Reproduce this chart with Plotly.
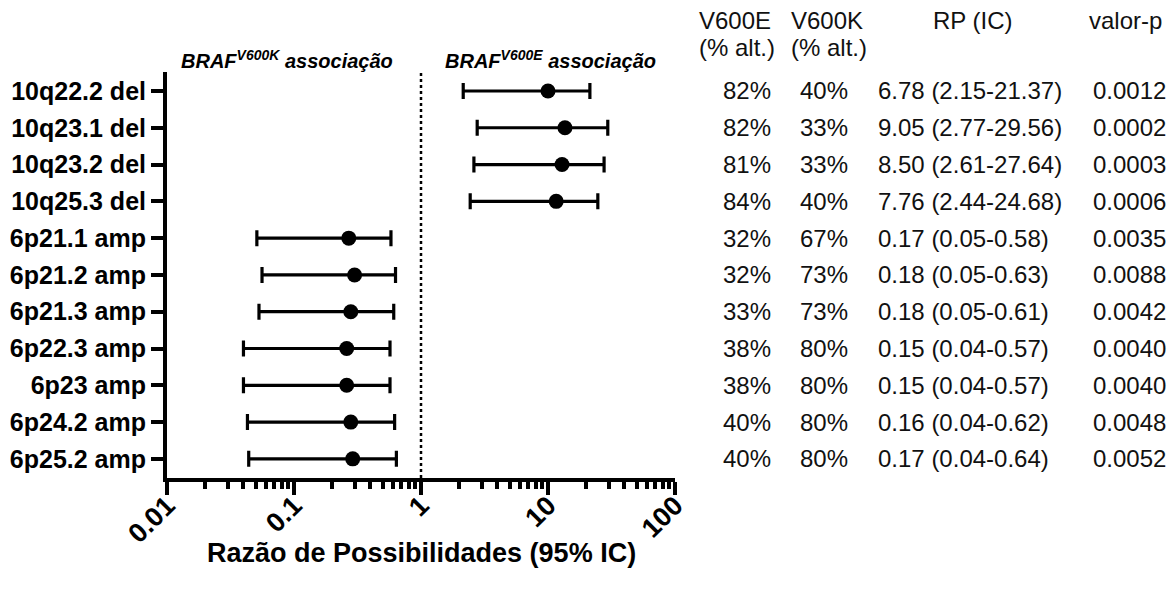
import plotly.graph_objects as go

categories = ["10q22.2 del", "10q23.1 del", "10q23.2 del", "10q25.3 del",
              "6p21.1 amp", "6p21.2 amp", "6p21.3 amp", "6p22.3 amp",
              "6p23 amp", "6p24.2 amp", "6p25.2 amp"]
point = [10.0, 13.6, 12.9, 11.6, 0.27, 0.30, 0.28, 0.26, 0.26, 0.28, 0.29]
ci_low = [2.15, 2.77, 2.61, 2.44, 0.051, 0.056, 0.053, 0.040, 0.040, 0.043, 0.044]
ci_high = [21.37, 29.56, 27.64, 24.68, 0.58, 0.63, 0.61, 0.57, 0.57, 0.62, 0.64]

v600e = ["82%", "82%", "81%", "84%", "32%", "32%", "33%", "38%", "38%", "40%", "40%"]
v600k = ["40%", "33%", "33%", "40%", "67%", "73%", "73%", "80%", "80%", "80%", "80%"]
rp_ic = ["6.78 (2.15-21.37)", "9.05 (2.77-29.56)", "8.50 (2.61-27.64)", "7.76 (2.44-24.68)",
         "0.17 (0.05-0.58)", "0.18 (0.05-0.63)", "0.18 (0.05-0.61)", "0.15 (0.04-0.57)",
         "0.15 (0.04-0.57)", "0.16 (0.04-0.62)", "0.17 (0.04-0.64)"]
pval = ["0.0012", "0.0002", "0.0003", "0.0006", "0.0035", "0.0088", "0.0042",
        "0.0040", "0.0040", "0.0048", "0.0052"]

major_ticks = [0.01, 0.1, 1, 10, 100]
major_labels = ["0.01", "0.1", "1", "10", "100"]
minor_ticks = [m * d for d in [0.01, 0.1, 1, 10] for m in range(2, 10)]

FONT = "Liberation Sans, Arial, sans-serif"

# page body has an 8px margin: the figure is placed at (8, 8)
W, H = 1168, 582
L, R, T, B = 159, 501, 64, 112

fig = go.Figure()
fig.add_trace(go.Scatter(
    x=point, y=categories, mode="markers",
    marker=dict(color="black", size=15, symbol="circle"),
    error_x=dict(type="data", symmetric=False,
                 array=[h - p for h, p in zip(ci_high, point)],
                 arrayminus=[p - l for p, l in zip(point, ci_low)],
                 color="black", thickness=3.2, width=8),
    showlegend=False, cliponaxis=False,
))

fig.add_shape(type="line", xref="x", yref="paper", x0=1, x1=1, y0=0, y1=1,
              line=dict(color="black", width=2.5, dash="dot"), layer="below")

ann = []
for txt, xc in [("<b><i>BRAF<sup>V600K</sup> associação</i></b>", 0.236),
                ("<b><i>BRAF<sup>V600E</sup> associação</i></b>", 0.754)]:
    ann.append(dict(text=txt, x=xc, y=1.032, xref="paper", yref="paper", showarrow=False,
                    xanchor="center", yanchor="middle",
                    font=dict(size=20, family=FONT, color="black")))

hdr_font = dict(size=24, family=FONT, color="#111")
headers = [("V600E", 1.043, 1.128, "left"), ("(% alt.)", 1.043, 1.060, "left"),
           ("V600K", 1.224, 1.128, "left"), ("(% alt.)", 1.224, 1.060, "left"),
           ("RP (IC)", 1.587, 1.128, "center"), ("valor-p", 1.811, 1.128, "left")]
for t, x, y, xa in headers:
    ann.append(dict(text=t, x=x, y=y, xref="paper", yref="paper", showarrow=False,
                    xanchor=xa, yanchor="middle", font=hdr_font))

cols = [(v600e, 1.193, "right"), (v600k, 1.345, "right"),
        (rp_ic, 1.396, "left"), (pval, 1.971, "right")]
for vals, x, xa in cols:
    for cat, v in zip(categories, vals):
        ann.append(dict(text=v, x=x, y=cat, xref="paper", yref="y", showarrow=False,
                        xanchor=xa, yanchor="middle", font=hdr_font))

ann.append(dict(text="<b>Razão de Possibilidades (95% IC)</b>", x=0.5, y=-0.185,
                xref="paper", yref="paper", showarrow=False, xanchor="center",
                yanchor="middle", font=dict(size=27, family=FONT, color="black")))

fig.update_layout(
    width=W, height=H,
    margin=dict(l=L, r=R, t=T, b=B, autoexpand=False),
    paper_bgcolor="white", plot_bgcolor="white",
    font=dict(family=FONT, color="black"),
    annotations=ann,
    xaxis=dict(type="log", range=[-2, 2], showgrid=False, zeroline=False,
               showline=True, linecolor="black", linewidth=4,
               tickmode="array", tickvals=major_ticks,
               ticktext=[f"<b>{t}</b>" for t in major_labels],
               ticks="outside", ticklen=13, tickwidth=4, tickcolor="black",
               tickangle=-45, ticklabelstandoff=-16,
               tickfont=dict(size=27, family=FONT, color="black"),
               minor=dict(tickmode="array", tickvals=minor_ticks, ticks="outside",
                          ticklen=7, tickwidth=4, tickcolor="black", showgrid=False)),
    yaxis=dict(type="category", categoryorder="array", categoryarray=categories,
               range=[10.52, -0.516], showgrid=False, zeroline=False,
               showline=True, linecolor="black", linewidth=4,
               ticks="outside", ticklen=12, tickwidth=4, tickcolor="black",
               tickmode="array", tickvals=categories,
               ticktext=[f"<b>{c}</b>" for c in categories],
               tickfont=dict(size=25, family=FONT, color="black")),
)

fig.write_html("out.html")
